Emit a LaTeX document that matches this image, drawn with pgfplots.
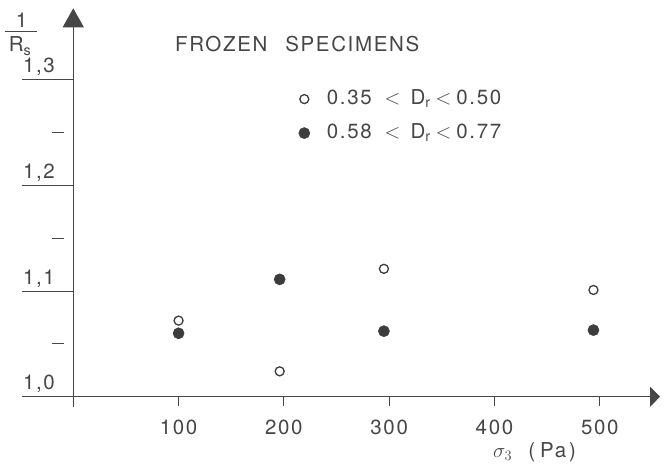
\documentclass[border=0pt]{standalone}
\usepackage{fontspec}
\setmainfont{TeX Gyre Heros}[LetterSpace=8]
\usepackage{pgfplots}
\pgfplotsset{compat=1.18}
\usetikzlibrary{arrows.meta}
\definecolor{ink}{RGB}{70,70,70}
\definecolor{dot}{RGB}{60,60,60}

\begin{document}
\begin{tikzpicture}[font=\fontsize{20.5}{23}\selectfont]
\begin{axis}[
  scale only axis, width=638pt, height=388.4pt,
  xmin=-48.7, xmax=557.2, ymin=1, ymax=1.3675,
  axis x line=bottom, axis y line=none, ytick=\empty,
  x axis line style={draw=ink, line width=1.1pt, -{Triangle[length=10pt,width=20pt]}},
  xtick={0,100,200,300,400,500}, xticklabels={,100,200,300,400,500},
  tick align=outside, major tick length=9pt,
  xtick style={draw=ink, line width=0.9pt},
  xticklabel style={text=ink, font=\fontsize{20.5}{23}\selectfont, yshift=-11pt},
  clip=false,
  legend style={at={(axis cs:213.9,1.2655)}, anchor=west, draw=none, fill=none,
    inner sep=0pt, row sep=17pt, column sep=17pt,
    nodes={text=ink, inner sep=0pt, text height=14pt, text depth=3pt},
    font=\fontsize{20.5}{23}\selectfont},
  legend cell align=left,
  legend image code/.code={\draw[#1] plot coordinates {(0pt,0pt)};},
]
\addplot[only marks, mark=o, mark size=4.5pt, mark options={draw=dot, line width=1.3pt, fill=white}]
  coordinates {(100,1.072) (196,1.024) (295,1.121) (494,1.101)};
\addlegendentry{0.35\hspace{13pt}$<$\hspace{10pt}D\textsubscript{r}\hspace{5pt}$<$\hspace{5pt}0.50}
\addplot[only marks, mark=*, mark size=5.6pt, mark options={draw=dot, fill=dot}]
  coordinates {(100,1.060) (196,1.111) (295,1.062) (494,1.063)};
\addlegendentry{0.58\hspace{13pt}$<$\hspace{10pt}D\textsubscript{r}\hspace{5pt}$<$\hspace{5pt}0.77}

% y axis, drawn by hand
\draw[ink, line width=1.1pt, -{Triangle[length=19pt,width=21pt]}] (axis cs:0,0.9906) -- (axis cs:0,1.3675);
\draw[ink, line width=1pt] (axis cs:-48.7,1.0) -- (axis cs:0,1.0);
\draw[ink, line width=1pt] (axis cs:-48.7,1.1) -- (axis cs:0,1.1);
\draw[ink, line width=1pt] (axis cs:-48.7,1.2) -- (axis cs:0,1.2);
\draw[ink, line width=1pt] (axis cs:-48.7,1.3) -- (axis cs:0,1.3);
\draw[ink, line width=1pt] (axis cs:-20.2,1.05) -- (axis cs:-8.8,1.05);
\draw[ink, line width=1pt] (axis cs:-20.2,1.15) -- (axis cs:-8.8,1.15);
\draw[ink, line width=1pt] (axis cs:-20.2,1.25) -- (axis cs:-8.8,1.25);
\node[anchor=south, text=ink, inner sep=0pt] at (axis cs:-32.6,1.0035) {1,0};
\node[anchor=south, text=ink, inner sep=0pt] at (axis cs:-32.6,1.1035) {1,1};
\node[anchor=south, text=ink, inner sep=0pt] at (axis cs:-32.6,1.2035) {1,2};
\node[anchor=south, text=ink, inner sep=0pt] at (axis cs:-32.6,1.3035) {1,3};

% y label 1/R_s
\node[anchor=base, text=ink, inner sep=0pt] at (axis cs:-49,1.3489) {1};
\draw[ink, line width=1pt] (axis cs:-64.9,1.3453) -- (axis cs:-34.5,1.3453);
\node[anchor=base, text=ink, inner sep=0pt] at (axis cs:-50.6,1.3262) {R\textsubscript{s}};

% title and x label
\node[anchor=base west, text=ink, inner sep=0pt] at (axis cs:96.6,1.3264) {FROZEN\hspace{18pt}SPECIMENS};
\node[anchor=base west, text=ink, inner sep=0pt] at (axis cs:398.6,0.9425) {$\sigma_3$\hspace{16pt}(\hspace{5pt}Pa\hspace{3pt})};
\end{axis}
\pgfresetboundingbox
\path[use as bounding box] (-22pt,-67.3pt) rectangle (644pt,396.7pt);
\end{tikzpicture}
\end{document}
